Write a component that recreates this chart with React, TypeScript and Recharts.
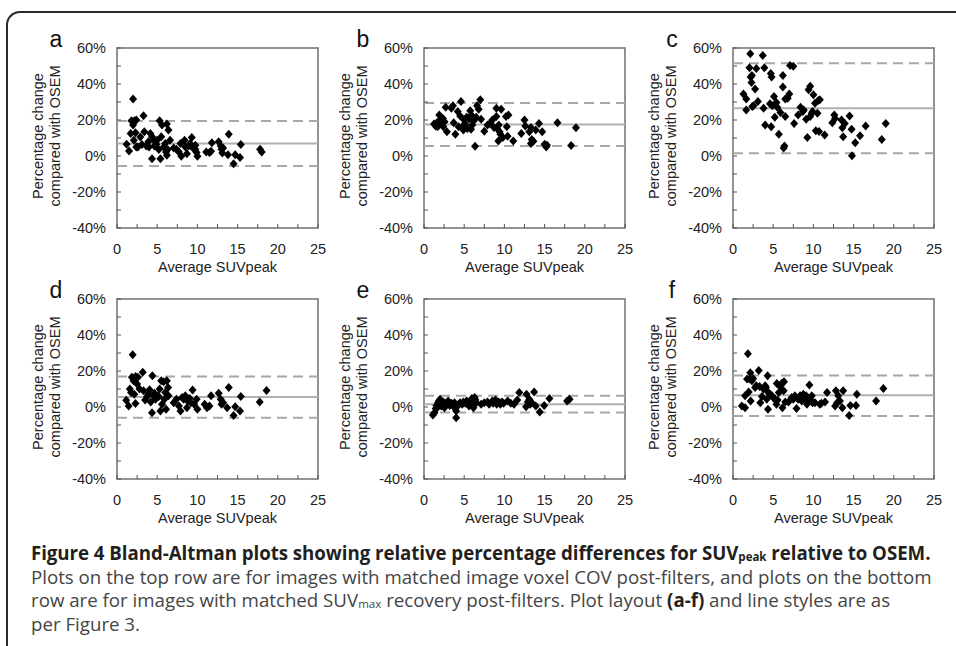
import React from 'react';
import { ScatterChart, Scatter, XAxis, YAxis, ReferenceLine, ReferenceArea } from 'recharts';

const xTicks = [0, 2.5, 5, 7.5, 10, 12.5, 15, 17.5, 20, 22.5, 25];
const yTicks = [-40, -30, -20, -10, 0, 10, 20, 30, 40, 50, 60];
const panelLetters = ['a', 'b', 'c', 'd', 'e', 'f'];
const xTitle = 'Average SUVpeak';
const yTitle1 = 'Percentage change';
const yTitle2 = 'compared with OSEM';

// [average SUVpeak, % change]
const pointsA: [number, number][] = [
  [2.0, 31.6], [1.2, 6.5], [1.5, 2.8], [1.7, 12.5], [1.8, 19.6], [2.0, 17.2], [2.16, 19.6], [2.4, 20],
  [2.1, 8.8], [2.3, 12.9], [2.4, 5], [2.9, 10.6], [3.3, 22.4], [3.4, 13.5], [3.65, 5.6], [3.9, 7.9],
  [4.15, 12.5], [4.36, -1.5], [4.36, 10.7], [4.56, 8.8], [4.65, 5.6], [4.9, 6.5], [4.98, 8.8], [5.3, 19.6],
  [5.4, -1.5], [5.5, 10.7], [5.6, 17.2], [5.8, 5], [6.0, 6.9], [6.2, 17.8], [6.2, 0.4], [6.4, 14.4],
  [6.1, 2.2], [6.6, 8.8], [7.05, 4.5], [7.4, 3.7], [7.7, 2.2], [7.9, 6.9], [8.0, -0.2], [8.4, 8.8],
  [8.5, 5], [8.7, 1.3], [8.9, 5.6], [9.1, 6.9], [9.3, 10.3], [9.5, 4.1], [9.75, 6], [9.9, 1.9],
  [10.0, -0.2], [9.75, 3.7], [11.1, 2.2], [11.5, 1.9], [11.7, 2.6], [11.8, 7.3], [12.65, 7.9], [12.9, 5.6],
  [13.0, 3.7], [13.2, 4.5], [13.1, 1.7], [13.9, 12.1], [13.8, 0.7], [14.5, -4.3], [14.7, 0.7], [15.3, -0.9],
  [15.4, 6.4], [17.8, 3.7], [18.0, 2.2], [3.98, 5.0], [3.1, 6.4], [2.6, 5], [5.2, 3.6], [6.3, 3.6],
];
const pointsB: [number, number][] = [
  [1.24, 17.8], [1.45, 16.6], [1.6, 18.5], [1.7, 16.3], [1.9, 22.8], [2.0, 20], [2.2, 17.8], [2.35, 20.9],
  [2.4, 16.3], [2.56, 19], [2.85, 13.5], [2.7, 27.1], [3.4, 26.5], [3.6, 27.9], [3.7, 18.5], [3.9, 12.1],
  [4.2, 24.7], [4.3, 16.3], [4.5, 22.2], [4.6, 30.3], [4.75, 16.3], [4.9, 14.4], [5.0, 20], [5.1, 17.8],
  [5.3, 21.5], [5.4, 15.3], [5.6, 20.6], [5.75, 25.2], [5.85, 14.8], [5.9, 22.8], [6.0, 17.2], [6.2, 19.6],
  [6.35, 5.4], [6.5, 21.5], [6.6, 27.9], [6.8, 26], [7.0, 31.2], [7.1, 20.4], [7.5, 13.8], [7.9, 17.2],
  [8.2, 18.1], [8.5, 20], [8.7, 15.9], [9.0, 21.9], [9.0, 26.5], [9.1, 15.3], [9.25, 8.4], [9.3, 17.2],
  [9.4, 13.5], [9.5, 12.1], [9.6, 26], [9.8, 10.3], [10.2, 21.9], [10.3, 16.3], [10.4, 11], [10.5, 22.8],
  [11.1, 8.4], [12.1, 12.5], [12.5, 20], [12.6, 16.6], [13.1, 13.5], [13.3, 15.9], [13.3, 6.9], [13.4, 9.1],
  [13.6, 8.2], [13.9, 14.4], [14.3, 18.1], [14.7, 13.5], [15.0, 6.5], [15.2, 5], [15.3, 6], [16.6, 18.5],
  [18.3, 5.8], [18.9, 15.7],
];
const pointsC: [number, number][] = [
  [1.3, 34.4], [1.65, 31.6], [1.65, 25.6], [2.15, 56.8], [2.05, 49], [2.2, 43.9], [2.3, 40.9], [2.35, 44.7],
  [2.4, 27.5], [2.55, 27.9], [2.75, 37.2], [2.9, 48.6], [3.1, 30.3], [3.7, 55.9], [3.8, 26.5], [3.9, 49],
  [4.0, 17.2], [4.6, 29], [4.7, 45.8], [4.75, 16.3], [4.8, 43.9], [4.9, 27.9], [5.1, 33.1], [5.2, 21.5],
  [5.4, 29.7], [5.5, 27.1], [5.7, 12.1], [5.9, 24.1], [6.2, 44.7], [6.2, 38.3], [6.3, 4.5], [6.4, 5.6],
  [6.5, 21.9], [6.5, 31.6], [6.8, 32.1], [7.0, 34.4], [7.1, 50.3], [7.5, 49.9], [7.6, 18.1], [8.1, 22.8],
  [8.4, 27.1], [8.7, 24.7], [8.8, 25.6], [9.1, 20.4], [9.25, 10.3], [9.4, 36.8], [9.6, 38.7], [9.6, 21.9],
  [9.8, 23.7], [9.9, 24.7], [10.0, 34], [10.2, 29.3], [10.3, 14], [10.5, 23.7], [10.6, 30.8], [10.7, 13.6],
  [10.8, 31.2], [11.4, 11.6], [12.35, 18.5], [12.6, 22.8], [12.7, 20.9], [13.5, 20], [13.6, 15.7], [13.7, 10.7],
  [13.9, 18.1], [14.5, 22.2], [14.75, 14.8], [14.8, 0.2], [15.2, 7.3], [15.8, 11.2], [16.5, 16.6], [18.5, 9.2],
  [19.0, 18.1],
];
const pointsD: [number, number][] = [
  [1.15, 3.75], [1.45, 0.6], [1.6, 10], [1.75, 8], [1.85, 16.5], [1.95, 29], [2.05, 14.6], [2.15, 7.1],
  [2.3, 2], [2.3, 17], [2.5, 12.8], [2.6, 16.5], [2.8, 10], [3.2, 19.3], [3.3, 9], [3.5, 3.9],
  [3.75, 5.8], [3.9, 7.1], [4.05, 9.6], [4.2, 2.8], [4.35, -3.2], [4.4, 17.4], [4.55, 6.2], [4.65, 7.7],
  [4.8, 4.3], [5.0, 6.2], [5.2, 5.8], [5.3, 10], [5.4, -2.25], [5.5, 14.6], [5.6, 1.5], [5.8, 14],
  [5.9, 4.3], [6.0, 8], [6.1, -1.3], [6.2, 14.6], [6.35, 10.9], [6.4, 6.2], [7.05, 2.4], [7.4, 4.3],
  [7.7, 0.6], [7.9, -2.25], [8.1, 5.3], [8.3, 4.3], [8.5, 6.2], [8.7, -0.4], [8.8, 3.4], [9.05, 4.7],
  [9.2, 2.4], [9.4, 9.4], [9.6, 1.5], [9.9, 4.3], [10.0, -1.3], [10.9, 1.5], [11.2, -0.4], [11.5, 0.6],
  [11.7, 6.2], [12.65, 7.7], [12.9, 4.3], [13.0, 1.5], [13.2, 2.4], [13.7, -0.4], [13.9, 10.9], [14.5, -4.7],
  [14.7, 0.2], [15.3, -2.25], [15.4, 5.8], [17.75, 2.8], [18.6, 9.2],
];
const pointsE: [number, number][] = [
  [1.1, -4.5], [1.3, -3.2], [1.45, -0.9], [1.55, 0.9], [1.65, -0.4], [1.75, 2.4], [1.85, 3.4], [2.0, 4.3],
  [2.15, 0.6], [2.3, 1.5], [2.4, 2.8], [2.55, -0.4], [2.75, 2.1], [3.0, 3.4], [3.2, 0.9], [3.4, 2.1],
  [3.6, 0.6], [3.8, 2.4], [4.0, -6], [4.0, -2.25], [4.1, 0.2], [4.3, 1.5], [4.5, 2.4], [4.75, 1.5],
  [4.9, 2.8], [5.15, 2.1], [5.3, 3.4], [5.6, 0.6], [5.75, 2.1], [5.95, 4.7], [6.1, 3.4], [6.15, -0.4],
  [6.3, 5.3], [6.4, 3.9], [6.5, 2.4], [7.1, 1.5], [7.5, 2.4], [7.9, 2.8], [8.1, 1.5], [8.5, 3.4],
  [8.6, 2.1], [8.9, 3.9], [9.05, 1.5], [9.3, 2.8], [9.5, 1.5], [9.7, 2.8], [9.9, 2.1], [10.4, 3.4],
  [10.8, 2.1], [11.2, 1.5], [11.6, 3.9], [11.85, 8], [12.7, 0.2], [12.75, 7.1], [12.9, 2.8], [13.1, 4.3],
  [13.2, 1.5], [13.4, 2.4], [13.7, 8.4], [13.9, 0.6], [14.4, -2.8], [14.95, 0.9], [15.6, 4.7], [17.8, 3.4],
  [18.1, 4.3], [5.9, 2.4],
];
const pointsF: [number, number][] = [
  [1.1, 0.6], [1.5, -0.4], [1.5, 6.2], [1.75, 15.6], [1.85, 29.6], [1.95, 8.4], [2.05, 15.6], [2.15, 19],
  [2.2, 3.4], [2.35, 14.6], [2.5, 15.9], [2.75, 10.9], [2.9, 11.8], [3.2, 20.3], [3.3, 11.4], [3.4, 2.4],
  [3.6, 5.8], [3.8, 9.9], [4.0, 11.8], [4.1, 10.9], [4.2, 4.3], [4.35, -1.3], [4.3, 17.4], [4.4, 8],
  [4.6, 7.1], [4.85, 6.2], [5.0, 5.3], [5.2, 4.3], [5.4, 1.5], [5.45, 13.1], [5.55, 3.9], [5.7, 8],
  [5.85, 11.4], [6.1, 13.3], [6.15, -0.4], [6.3, 9], [6.35, 14], [6.5, 2.8], [6.9, 2.8], [7.3, 5.3],
  [7.5, 4.3], [7.7, 6.2], [7.9, -0.9], [8.1, 4.3], [8.35, 6.2], [8.55, 3.4], [8.75, 7.1], [9.0, 4.3],
  [9.1, 6.2], [9.2, 1.5], [9.4, 3.4], [9.5, 12.2], [9.6, 4.3], [9.8, 6.2], [9.9, 2.4], [10.2, 2.4],
  [10.8, 1.5], [11.0, 2.1], [11.45, 2.8], [11.7, 8], [12.7, 0.6], [12.8, 9], [12.95, 2.4], [13.1, 6.2],
  [13.3, 3.4], [13.6, -0.4], [13.7, 9], [14.45, -4.7], [14.6, 0.9], [15.3, 0.9], [15.4, 7.1], [17.8, 3.4],
  [18.7, 10.3],
];

// [upper limit, mean, lower limit] in %
const limitsA = [19.5, 7, -5.5];
const limitsB = [29.5, 17.5, 5.5];
const limitsC = [51.5, 26.5, 1.5];
const limitsD = [17, 5.5, -6];
const limitsE = [6.2, 1.5, -3];
const limitsF = [17.5, 6.5, -5];

const allPoints = [pointsA, pointsB, pointsC, pointsD, pointsE, pointsF];
const allLimits = [limitsA, limitsB, limitsC, limitsD, limitsE, limitsF];

const colLefts = [117, 424, 733];
const rowTops = [48, 299];
const PW = 201;
const PH = 180;
const FONT = '"Liberation Sans", Arial, sans-serif';
const FS = 14.5;

const XTick = (props: any) => {
  const { x, y, payload } = props;
  const v = payload.value;
  return (
    <g>
      <line x1={x} x2={x} y1={y} y2={y - 4} stroke="#555" strokeWidth={1} />
      {v % 5 === 0 && (
        <text x={x} y={y + 26} textAnchor="middle" fontSize={FS} fill="#222" fontFamily={FONT}>
          {v}
        </text>
      )}
    </g>
  );
};

const YTick = (props: any) => {
  const { x, y, payload } = props;
  const v = payload.value;
  return (
    <g>
      <line x1={x} x2={x + 4} y1={y} y2={y} stroke="#555" strokeWidth={1} />
      {v % 20 === 0 && (
        <text x={x - 11} y={y + 5} textAnchor="end" fontSize={FS} fill="#222" fontFamily={FONT}>
          {v + '%'}
        </text>
      )}
    </g>
  );
};

const Diamond = (props: any) => {
  const { cx, cy } = props;
  if (cx == null || cy == null) return null;
  return (
    <polygon
      points={`${cx},${cy - 4.5} ${cx + 4},${cy} ${cx},${cy + 4.5} ${cx - 4},${cy}`}
      fill="#000"
    />
  );
};

function Panel({ idx }: { idx: number }) {
  const left = colLefts[idx % 3];
  const top = rowTops[Math.floor(idx / 3)];
  const data = allPoints[idx].map(([x, y]) => ({ x, y }));
  const lim = allLimits[idx];
  return (
    <div style={{ position: 'absolute', left: left - 50, top: top - 10 }}>
      <ScatterChart width={PW + 60} height={PH + 45} margin={{ top: 10, right: 10, left: 0, bottom: 0 }}>
        <XAxis
          type="number"
          dataKey="x"
          domain={[0, 25]}
          ticks={xTicks}
          interval={0}
          tickSize={0}
          tickMargin={0}
          axisLine={false}
          tickLine={false}
          tick={(p: any) => <XTick {...p} />}
          height={35}
        />
        <YAxis
          type="number"
          dataKey="y"
          domain={[-40, 60]}
          ticks={yTicks}
          interval={0}
          tickSize={0}
          tickMargin={0}
          axisLine={false}
          tickLine={false}
          tick={(p: any) => <YTick {...p} />}
          width={50}
        />
        <ReferenceArea x1={0} x2={25} y1={-40} y2={60} fill="none" stroke="#707070" strokeWidth={1.5} />
        <ReferenceLine y={lim[0]} stroke="#a8a8a8" strokeWidth={2} strokeDasharray="10 6" />
        <ReferenceLine y={lim[1]} stroke="#b0b0b0" strokeWidth={2} />
        <ReferenceLine y={lim[2]} stroke="#a8a8a8" strokeWidth={2} strokeDasharray="10 6" />
        <Scatter data={data} shape={(p: any) => <Diamond {...p} />} isAnimationActive={false} />
      </ScatterChart>
    </div>
  );
}

function Labels() {
  const items: React.ReactNode[] = [];
  for (let i = 0; i < 6; i++) {
    const left = colLefts[i % 3];
    const top = rowTops[Math.floor(i / 3)];
    const cy = top + 88;
    items.push(
      <g key={i}>
        <text x={left - 61} y={top - 1} textAnchor="middle" fontSize={23} fill="#111" fontFamily={FONT}>
          {panelLetters[i]}
        </text>
        <text
          x={left - 74}
          y={cy}
          transform={`rotate(-90, ${left - 74}, ${cy})`}
          textAnchor="middle"
          fontSize={FS}
          fill="#222"
          fontFamily={FONT}
        >
          {yTitle1}
        </text>
        <text
          x={left - 57}
          y={cy}
          transform={`rotate(-90, ${left - 57}, ${cy})`}
          textAnchor="middle"
          fontSize={FS}
          fill="#222"
          fontFamily={FONT}
        >
          {yTitle2}
        </text>
        <text x={left + PW / 2} y={top + PH + 44} textAnchor="middle" fontSize={FS} fill="#222" fontFamily={FONT}>
          {xTitle}
        </text>
      </g>
    );
  }
  return (
    <svg width={956} height={646} style={{ position: 'absolute', left: 0, top: 0, pointerEvents: 'none' }}>
      {items}
    </svg>
  );
}

const capFont = '"Open Sans", "Noto Sans", sans-serif';
const subStyle: React.CSSProperties = { fontSize: '0.62em', verticalAlign: '-0.1em', lineHeight: 0 };

export default function App() {
  return (
    <div
      style={{
        position: 'absolute',
        left: 0,
        top: 0,
        width: 956,
        height: 646,
        background: '#fff',
        overflow: 'hidden',
      }}
    >
      <div
        style={{
          position: 'absolute',
          left: 6,
          top: 11,
          width: 1100,
          height: 800,
          borderTop: '2px solid #2a2a2a',
          borderLeft: '2px solid #2a2a2a',
          borderTopLeftRadius: 14,
        }}
      />
      {[0, 1, 2, 3, 4, 5].map((i) => (
        <Panel key={i} idx={i} />
      ))}
      <Labels />
      <div
        style={{
          position: 'absolute',
          left: 31,
          top: 541,
          fontFamily: capFont,
          fontSize: 18.7,
          lineHeight: '23.5px',
          color: '#454545',
          whiteSpace: 'nowrap',
        }}
      >
        <div style={{ fontWeight: 700, color: '#231f20', letterSpacing: '-0.05px' }}>
          Figure 4 Bland-Altman plots showing relative percentage differences for SUV
          <sub style={subStyle}>peak</sub> relative to OSEM.
        </div>
        <div>Plots on the top row are for images with matched image voxel COV post-filters, and plots on the bottom</div>
        <div>
          row are for images with matched SUV<sub style={subStyle}>max</sub> recovery post-filters. Plot layout{' '}
          <b style={{ color: '#231f20' }}>(a-f)</b> and line styles are as
        </div>
        <div>per Figure 3.</div>
      </div>
    </div>
  );
}
